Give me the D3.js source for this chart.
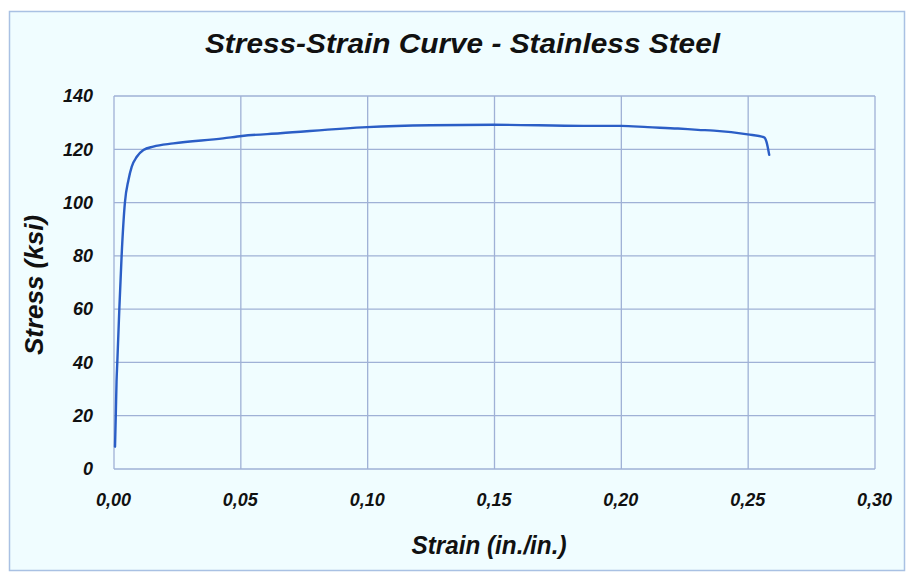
<!DOCTYPE html>
<html>
<head>
<meta charset="utf-8">
<script src="https://cdn.jsdelivr.net/npm/d3@7"></script>
<style>
  html, body { margin: 0; padding: 0; background: #ffffff; }
  svg { display: block; }
  text { font-family: "Liberation Sans", Arial, sans-serif; font-style: italic; font-weight: bold; fill: #111; }
</style>
</head>
<body>
<svg id="chart" width="909" height="574"></svg>
<script>
// ---- data ----
const chartTitle = "Stress-Strain Curve - Stainless Steel";
const xTitle = "Strain (in./in.)";
const yTitle = "Stress (ksi)";
const xTickValues = [0, 0.05, 0.10, 0.15, 0.20, 0.25, 0.30];
const yTickValues = [0, 20, 40, 60, 80, 100, 120, 140];
const strain = [0.0004, 0.0007, 0.0010, 0.0013, 0.0021, 0.0030, 0.0043, 0.0057, 0.0070, 0.0090, 0.0116, 0.0155, 0.0234, 0.0430, 0.0504, 0.0655, 0.0998, 0.1248, 0.1496, 0.1850, 0.2000, 0.2104, 0.2223, 0.2302, 0.2365, 0.2498, 0.2563, 0.2572, 0.2583];
const stress = [8.4, 20, 32.8, 40, 60, 80, 100, 108.5, 113.5, 117.2, 119.7, 121.0, 122.2, 124.1, 125.0, 126.0, 128.3, 129.0, 129.2, 128.8, 128.8, 128.3, 127.8, 127.3, 127.0, 125.6, 124.5, 122.9, 117.9];

// ---- layout ----
const svg = d3.select("#chart");
const plot = { left: 114, right: 875, top: 96, bottom: 469 };

svg.append("rect")
  .attr("x", 9.5).attr("y", 11.5).attr("width", 895).attr("height", 559)
  .attr("fill", "#f0fdff").attr("stroke", "#a9c1e3").attr("stroke-width", 1.5);

const x = d3.scaleLinear().domain([0, 0.30]).range([plot.left, plot.right]);
const y = d3.scaleLinear().domain([0, 140]).range([plot.bottom, plot.top]);

// grid
const grid = svg.append("g");
grid.selectAll("line.v").data(xTickValues).enter().append("line")
  .attr("x1", d => x(d)).attr("x2", d => x(d))
  .attr("y1", plot.top).attr("y2", plot.bottom)
  .attr("stroke", "#9fb1d6").attr("stroke-width", 1.3);
grid.selectAll("line.h").data(yTickValues).enter().append("line")
  .attr("x1", plot.left).attr("x2", plot.right)
  .attr("y1", d => y(d)).attr("y2", d => y(d))
  .attr("stroke", "#9fb1d6").attr("stroke-width", 1.3);

// axes (labels only)
const styleText = sel => sel
  .attr("font-family", '"Liberation Sans", Arial, sans-serif')
  .attr("font-style", "italic").attr("font-weight", "bold").attr("fill", "#111");

const fmtX = d => d3.format(".2f")(d).replace(".", ",");
const xAxis = d3.axisBottom(x).tickValues(xTickValues).tickFormat(fmtX).tickSize(0).tickPadding(0);
const gx = svg.append("g").attr("transform", `translate(-1, ${plot.bottom + 37})`).call(xAxis);
gx.select(".domain").remove();
gx.selectAll("text").attr("font-size", 18).attr("dy", 0).call(styleText);

const yAxis = d3.axisLeft(y).tickValues(yTickValues).tickFormat(d3.format("d")).tickSize(0).tickPadding(21);
const gy = svg.append("g").attr("transform", `translate(${plot.left}, 0)`).call(yAxis);
gy.select(".domain").remove();
gy.selectAll("text").attr("font-size", 18).call(styleText);

// curve
const pts = strain.map((s, i) => [s, stress[i]]);
const line = d3.line().x(d => x(d[0])).y(d => y(d[1])).curve(d3.curveMonotoneX);
svg.append("path").datum(pts)
  .attr("d", line)
  .attr("fill", "none").attr("stroke", "#2b5ec6").attr("stroke-width", 2.4)
  .attr("stroke-linejoin", "round").attr("stroke-linecap", "round");

// titles
svg.append("text").attr("x", 462.5).attr("y", 53).attr("text-anchor", "middle")
  .attr("font-size", 28).attr("textLength", 515).attr("lengthAdjust", "spacingAndGlyphs")
  .text(chartTitle);
svg.append("text").attr("x", 489).attr("y", 554).attr("text-anchor", "middle")
  .attr("font-size", 25).attr("textLength", 155).attr("lengthAdjust", "spacingAndGlyphs")
  .text(xTitle);
svg.append("text").attr("transform", "translate(43, 285) rotate(-90)").attr("text-anchor", "middle")
  .attr("font-size", 25).attr("textLength", 140).attr("lengthAdjust", "spacingAndGlyphs")
  .text(yTitle);
</script>
</body>
</html>
